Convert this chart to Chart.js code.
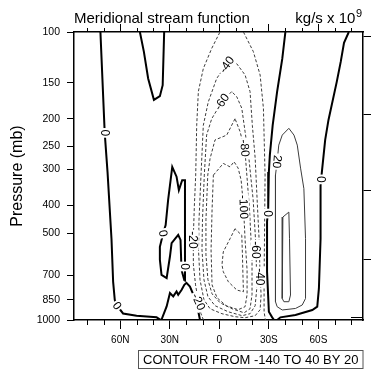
<!DOCTYPE html>
<html><head><meta charset="utf-8">
<script src="https://cdn.jsdelivr.net/npm/chart.js@4.4.0/dist/chart.umd.min.js"></script>
<style>html,body{margin:0;padding:0;background:#fff;}canvas{display:block;}</style>
</head><body>
<canvas id="c" width="372" height="373"></canvas>
<script>
const FONT = '"Liberation Sans", Arial, Helvetica, sans-serif';

// ---- axis ticks ----
const latTicks = [-60, -30, 0, 30, 60];
const latTickLabels = ['60N', '30N', '0', '30S', '60S'];
const latMinorTicks = [-80, -70, -50, -40, -20, -10, 10, 20, 40, 50, 70, 80];
const pressureTicks = [100, 150, 200, 250, 300, 400, 500, 700, 850, 1000];
const heightTicksP = [103.5, 194, 356, 616];
const heightInnerTickP = 976;

// ---- contour lines: [latitude (negative = N), pressure (mb)] ----
// level 0
const c0_nh = [[-72.0,100],[-69.4,224],[-67.7,306],[-65.3,522],[-64.3,737],[-63.3,852],[-61.9,892],[-58.3,949],[-50.1,966],[-38.0,979],[-35.4,1000]];
const c0_v = [[-48.1,100],[-45.7,117],[-43.1,145],[-39.6,172],[-36.0,167],[-34.3,153],[-33.4,100]];
const c0_w = [[-35.1,1000],[-31.9,897],[-29.9,806],[-27.9,828],[-25.9,796],[-24.9,817],[-22.8,785],[-21.2,755],[-19.9,743],[-17.8,765],[-15.4,824],[-13.2,907],[-11.7,1000]];
const c0_loop = [[-21.1,731],[-20.8,652],[-20.8,527],[-20.8,362],[-20.8,327],[-22.5,327],[-24.5,354],[-25.9,318],[-28.5,294],[-31.0,383],[-32.5,468],[-34.0,500],[-36.0,557],[-36.0,618],[-35.0,697],[-31.9,715],[-29.9,602],[-28.9,541],[-24.9,506],[-23.5,527],[-22.9,670],[-21.1,731]];
const c0_sh1 = [[40.0,100],[38.1,124],[35.0,161],[32.3,211],[30.6,267],[30.0,306],[29.6,411],[28.9,456],[28.9,680],[30.0,936],[32.0,979],[33.2,1000]];
const c0_sh2 = [[35.0,1000],[37.0,979],[46.1,961],[56.3,923],[59.3,899],[60.3,777],[61.3,522],[61.3,341],[61.9,314],[64.1,237],[66.1,202],[71.1,149],[73.5,127],[75.5,109],[78.4,100]];
// positive levels
const c20 = [[42.1,216],[38.1,228],[36.0,247],[35.0,282],[34.0,314],[34.0,527],[34.0,864],[35.0,899],[38.1,923],[46.1,912],[50.2,887],[52.2,842],[52.2,522],[51.2,350],[49.2,297],[47.2,247],[45.2,228],[42.1,216]];
const c40 = [[42.1,422],[38.5,439],[38.1,842],[39.1,864],[42.1,864],[43.1,819],[42.5,522],[42.1,422]];
// negative levels
const cm20_left = [[-9.6,1000],[-11.1,951],[-12.7,864],[-14.4,755],[-15.7,643],[-15.8,527],[-15.1,399],[-14.3,314],[-13.7,211],[-12.7,161],[-9.7,134],[-4.6,114],[0.4,100]];
const cm20_right = [[14.6,100],[20.6,117],[24.7,141],[26.7,184],[27.7,314],[27.4,487],[27.1,725],[27.1,936],[27.9,1000]];
const cm40 = [[6.5,124],[-1.6,145],[-6.7,175],[-9.7,211],[-11.1,314],[-12.3,449],[-12.6,571],[-11.7,725],[-9.3,851],[-5.6,914],[1.6,951],[9.5,974],[15.6,982],[21.7,966],[24.7,921],[25.3,817],[24.7,708],[24.1,527],[22.9,383],[21.7,274],[20.0,211],[18.6,161],[15.6,141],[10.6,129],[6.5,124]];
const cm60 = [[7.5,161],[1.5,175],[-4.6,200],[-7.7,228],[-9.1,314],[-10.2,449],[-10.5,571],[-9.3,725],[-6.9,830],[-2.6,892],[5.3,936],[13.8,966],[18.6,951],[21.7,892],[22.6,785],[22.3,571],[20.5,383],[18.0,278],[15.6,222],[13.6,184],[10.6,168],[7.5,161]];
const cm80 = [[9.5,200],[4.5,228],[-2.6,237],[-5.6,275],[-7.0,314],[-8.1,449],[-8.1,594],[-6.9,725],[-4.4,811],[0.4,871],[7.7,914],[15.0,944],[18.6,914],[19.8,817],[19.8,618],[18.3,415],[16.2,290],[15.6,261],[12.6,222],[9.5,200]];
const cm100 = [[-3.6,314],[2.4,286],[6.5,294],[8.9,282],[11.4,297],[13.2,327],[14.6,399],[15.6,527],[16.8,670],[16.8,817],[15.6,899],[11.4,921],[4.1,892],[-1.4,837],[-4.4,755],[-5.0,571],[-4.4,415],[-3.6,314]];
const cm120 = [[9.5,482],[6.5,522],[2.4,580],[1.6,643],[2.4,680],[5.5,737],[10.6,787],[14.6,798],[14.3,697],[14.0,594],[13.6,508],[9.5,482]];

const contours = [
  {level: 0, pts: c0_nh}, {level: 0, pts: c0_v}, {level: 0, pts: c0_w}, {level: 0, pts: c0_loop},
  {level: 0, pts: c0_sh1}, {level: 0, pts: c0_sh2},
  {level: 20, pts: c20}, {level: 40, pts: c40},
  {level: -20, pts: cm20_left}, {level: -20, pts: cm20_right},
  {level: -40, pts: cm40}, {level: -60, pts: cm60}, {level: -80, pts: cm80},
  {level: -100, pts: cm100}, {level: -120, pts: cm120}
];

// contour labels (text, position on the line, rotation in degrees)
const contourLabels = [
  {text: '0', lat: -69.4, p: 224, rot: 90},
  {text: '0', lat: -61.9, p: 892, rot: 55},
  {text: '0', lat: -34.0, p: 500, rot: 80},
  {text: '0', lat: -20.8, p: 652, rot: 90},
  {text: '0', lat: 29.4, p: 427, rot: 90},
  {text: '0', lat: 61.3, p: 325, rot: 90},
  {text: '20', lat: 35.0, p: 282, rot: 95},
  {text: '-20', lat: -15.8, p: 527, rot: 90},
  {text: '-20', lat: -12.7, p: 864, rot: 65},
  {text: '-40', lat: 4.5, p: 130, rot: -55},
  {text: '-60', lat: 1.5, p: 175, rot: -55},
  {text: '-80', lat: 15.3, p: 253, rot: 85},
  {text: '-100', lat: 14.7, p: 405, rot: 88},
  {text: '-60', lat: 22.3, p: 571, rot: 90},
  {text: '-40', lat: 24.7, p: 708, rot: 90}
];

const titleText = 'Meridional stream function';
const unitText = 'kg/s x 10';
const unitExp = '9';
const infoText = 'CONTOUR FROM -140 TO 40 BY 20';

Chart.defaults.font.family = FONT;

const datasets = contours.map(c => ({
  data: c.pts.map(([x, y]) => ({x, y})),
  showLine: true,
  pointRadius: 0,
  pointHoverRadius: 0,
  tension: 0,
  fill: false,
  borderColor: c.level === 0 ? '#000' : '#3c3c3c',
  borderWidth: c.level === 0 ? 2 : 1,
  borderDash: c.level < 0 ? [3, 2] : []
}));

const labelPlugin = {
  id: 'clabels',
  afterDatasetsDraw(chart) {
    const {ctx, chartArea: a, scales: {x, y}} = chart;
    ctx.save();
    ctx.beginPath(); ctx.rect(a.left, a.top, a.right - a.left, a.bottom - a.top); ctx.clip();
    ctx.font = '12px ' + FONT;
    ctx.textAlign = 'center'; ctx.textBaseline = 'middle';
    contourLabels.forEach(l => {
      const px = x.getPixelForValue(l.lat), py = y.getPixelForValue(l.p);
      const w = ctx.measureText(l.text).width;
      ctx.save();
      ctx.translate(px, py);
      ctx.rotate(l.rot * Math.PI / 180);
      ctx.fillStyle = '#fff';
      ctx.fillRect(-w / 2 - 1.5, -5.5, w + 3, 11);
      ctx.fillStyle = '#000';
      ctx.fillText(l.text, 0, 0.5);
      ctx.restore();
    });
    ctx.restore();
  }
};

const decorPlugin = {
  id: 'decor',
  afterDraw(chart) {
    const {ctx, chartArea: a, scales} = chart;
    ctx.save();
    ctx.strokeStyle = '#000'; ctx.lineWidth = 1;
    latMinorTicks.forEach(v => {
      const px = Math.round(scales.x.getPixelForValue(v)) + 0.5;
      ctx.beginPath();
      ctx.moveTo(px, a.bottom); ctx.lineTo(px, a.bottom + 5);
      ctx.moveTo(px, a.top); ctx.lineTo(px, a.top - 4);
      ctx.stroke();
    });
    const py = Math.round(scales.y2.getPixelForValue(heightInnerTickP)) + 0.5;
    ctx.beginPath(); ctx.moveTo(a.right, py); ctx.lineTo(a.right - 12, py); ctx.stroke();

    ctx.fillStyle = '#000';
    ctx.textBaseline = 'alphabetic';
    ctx.textAlign = 'left';
    ctx.font = '15px ' + FONT;
    ctx.fillText(titleText, a.left, 22.5);
    const w1 = ctx.measureText(unitText).width;
    ctx.font = '11px ' + FONT;
    const w2 = ctx.measureText(unitExp).width;
    const x0 = a.right - 1 - w1 - w2 - 0.5;
    ctx.font = '15px ' + FONT;
    ctx.fillText(unitText, x0, 22.5);
    ctx.font = '11px ' + FONT;
    ctx.fillText(unitExp, x0 + w1 + 0.5, 16.5);

    ctx.strokeStyle = '#555';
    ctx.strokeRect(138.5, 350.5, a.right - 138.5, 18);
    ctx.font = '13px ' + FONT;
    ctx.textAlign = 'center'; ctx.textBaseline = 'middle';
    ctx.fillText(infoText, (138.5 + a.right) / 2, 360);
    ctx.restore();
  }
};

const setLatTicks = s => { s.ticks = latTicks.map(v => ({value: v})); };
const borderOpt = {display: true, color: '#000', width: 1.5};

new Chart(document.getElementById('c'), {
  type: 'scatter',
  data: {datasets},
  options: {
    responsive: false,
    animation: false,
    devicePixelRatio: 1,
    layout: {padding: 0},
    plugins: {legend: {display: false}, tooltip: {enabled: false}, title: {display: false}},
    events: [],
    scales: {
      x: {
        type: 'linear', position: 'bottom', min: -88, max: 87,
        afterBuildTicks: setLatTicks,
        ticks: {callback: v => latTickLabels[latTicks.indexOf(v)], font: {size: 10}, color: '#000', padding: 5, maxRotation: 0, autoSkip: false},
        grid: {drawOnChartArea: false, drawTicks: true, tickLength: 9, color: '#000', lineWidth: 1},
        border: borderOpt,
        afterFit: s => { s.height = 53; }
      },
      x2: {
        type: 'linear', position: 'top', min: -88, max: 87,
        afterBuildTicks: setLatTicks,
        ticks: {display: false},
        grid: {drawOnChartArea: false, drawTicks: true, tickLength: 8, color: '#000', lineWidth: 1},
        border: borderOpt,
        afterFit: s => { s.height = 32; }
      },
      y: {
        type: 'logarithmic', position: 'left', reverse: true, min: 100, max: 1000,
        afterBuildTicks: s => { s.ticks = pressureTicks.map(v => ({value: v})); },
        ticks: {callback: v => String(v), font: {size: 10.5}, color: '#000', padding: 7, autoSkip: false},
        grid: {drawOnChartArea: false, drawTicks: true, tickLength: 7, color: '#000', lineWidth: 1},
        border: borderOpt,
        title: {display: true, text: 'Pressure (mb)', font: {size: 16}, color: '#000', padding: {top: 8, bottom: 0}},
        afterFit: s => { s.width = 74; }
      },
      y2: {
        type: 'logarithmic', position: 'right', reverse: true, min: 100, max: 1000,
        afterBuildTicks: s => { s.ticks = heightTicksP.map(v => ({value: v})); },
        ticks: {display: false},
        grid: {drawOnChartArea: false, drawTicks: true, tickLength: 8, color: '#000', lineWidth: 1},
        border: borderOpt,
        afterFit: s => { s.width = 9; }
      }
    }
  },
  plugins: [labelPlugin, decorPlugin]
});
</script>
</body></html>
